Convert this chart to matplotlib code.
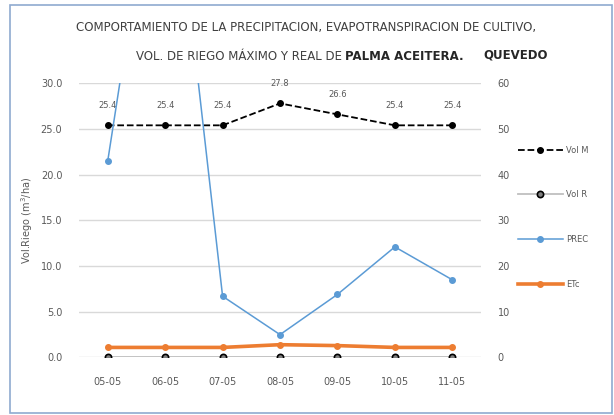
import matplotlib
matplotlib.use("Agg")
import matplotlib.pyplot as plt
from matplotlib.patches import Rectangle

plt.rcParams['font.family'] = ['Liberation Sans Narrow', 'DejaVu Sans']

# data
fechas = ["05-05", "06-05", "07-05", "08-05", "09-05", "10-05", "11-05"]
vol_m = [25.4, 25.4, 25.4, 27.8, 26.6, 25.4, 25.4]
vol_r = [0, 0, 0, 0, 0, 0, 0]
prec = [43.0, 124.0, 13.4, 5.0, 13.8, 24.2, 17.0]
etc = [1.1, 1.1, 1.1, 1.4, 1.3, 1.1, 1.1]

left_ticks = [0, 5, 10, 15, 20, 25, 30]
right_ticks = [0, 10, 20, 30, 40, 50, 60]

GRAY = "#595959"
GRID = "#d9d9d9"

fig = plt.figure(figsize=(6.14, 4.15), dpi=100)
fig.patches.append(Rectangle((10 / 614, 2 / 415), 602 / 614, 408 / 415,
                             transform=fig.transFigure, fill=False,
                             edgecolor="#8faad0", linewidth=1.2))

ax = fig.add_axes([0.1287, 0.1386, 0.6547, 0.6607])
ax2 = ax.twinx()

x = list(range(len(fechas)))

ax.plot(x, vol_m, color="black", linestyle="--", linewidth=1.3,
        marker="o", markersize=4, label="Vol M", zorder=4)
ax.plot(x, vol_r, color="#bfbfbf", linewidth=1.3, marker="o", markersize=4.5,
        markerfacecolor="#7f7f7f", markeredgecolor="black",
        markeredgewidth=1.2, label="Vol R", zorder=4)
ax.plot(x, etc, color="#ed7d31", linewidth=2.6, marker="o", markersize=4,
        label="ETc", zorder=3)
ax2.plot(x, prec, color="#5b9bd5", linewidth=1.1, marker="o", markersize=4,
         label="PREC")

for xi, v in zip(x, vol_m):
    ax.annotate(f"{v:.1f}", (xi, v), xytext=(0, 11), textcoords="offset points",
                ha="center", va="bottom", fontsize=6, color=GRAY)

ax.set_xlim(-0.5, len(fechas) - 0.5)
ax.set_ylim(0, 30)
ax2.set_ylim(0, 60)
ax.set_yticks(left_ticks)
ax.set_yticklabels([f"{t:.1f}" for t in left_ticks])
ax2.set_yticks(right_ticks)
ax2.set_yticklabels([str(t) for t in right_ticks])
ax.set_xticks(x)
ax.set_xticklabels(fechas)

ax.grid(axis="y", color=GRID, linewidth=1)
ax.set_axisbelow(True)
for a in (ax, ax2):
    for s in a.spines.values():
        s.set_visible(False)
    a.tick_params(length=0, labelsize=7, labelcolor=GRAY)
ax.tick_params(axis="y", pad=12)
ax.tick_params(axis="x", pad=14)
ax2.tick_params(axis="y", pad=12)

ax.set_ylabel("Vol.Riego (m$^3$/ha)", fontsize=7, color=GRAY, labelpad=4)

# title
fig.text(306 / 614, 1 - 28 / 415, "COMPORTAMIENTO DE LA PRECIPITACION, EVAPOTRANSPIRACION DE CULTIVO,",
         ha="center", va="center", fontsize=8.5, color="#404040")
fig.text(342 / 614, 1 - 56 / 415, "VOL. DE RIEGO MÁXIMO Y REAL DE",
         ha="right", va="center", fontsize=8.5, color="#404040")
fig.text(345 / 614, 1 - 56 / 415, "PALMA ACEITERA.",
         ha="left", va="center", fontsize=8.5, color="#262626", fontweight="bold")
fig.text(483 / 614, 1 - 55 / 415, "QUEVEDO",
         ha="left", va="center", fontsize=8.5, color="#262626", fontweight="bold")

# legend
h1, l1 = ax.get_legend_handles_labels()
h2, l2 = ax2.get_legend_handles_labels()
handles = [h1[0], h1[1], h2[0], h1[2]]
labels = [l1[0], l1[1], l2[0], l1[2]]
fig.legend(handles, labels, loc="upper left", bbox_to_anchor=(510 / 614, 1 - 138 / 415),
           frameon=False, fontsize=6, labelcolor=GRAY, labelspacing=4.3,
           handlelength=5.5, handletextpad=0.3)

fig.savefig("out.png", dpi=100)
